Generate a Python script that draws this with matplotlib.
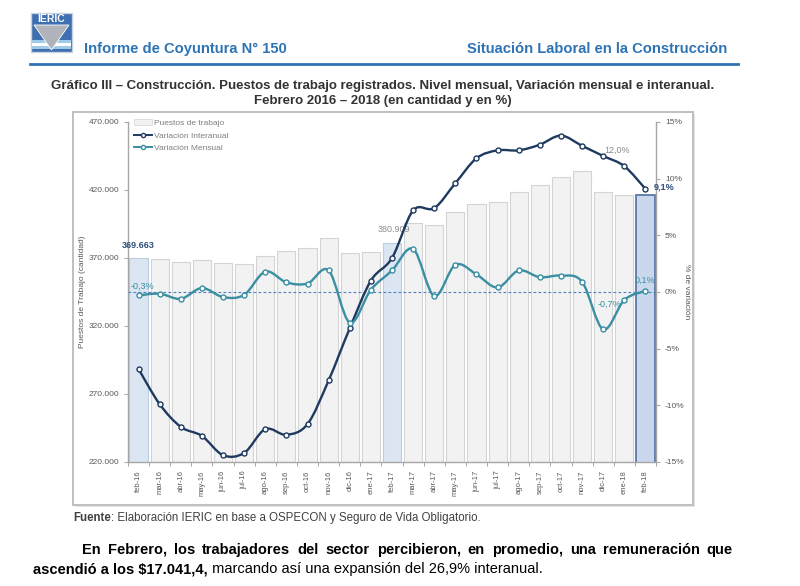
import numpy as np
import matplotlib
matplotlib.use("Agg")
import matplotlib.pyplot as plt
from matplotlib.path import Path
from matplotlib.patches import PathPatch, Rectangle, Polygon, Patch
from matplotlib.lines import Line2D
from matplotlib import font_manager as fm
from matplotlib.ticker import FixedLocator, FuncFormatter

# ---------------- data ----------------
months = ["feb-16", "mar-16", "abr-16", "may-16", "jun-16", "jul-16", "ago-16", "sep-16",
          "oct-16", "nov-16", "dic-16", "ene-17", "feb-17", "mar-17", "abr-17", "may-17",
          "jun-17", "jul-17", "ago-17", "sep-17", "oct-17", "nov-17", "dic-17", "ene-18",
          "feb-18"]
puestos = [369663, 369000, 367300, 368300, 366300, 365400, 371500, 375200, 377600, 384500,
           374000, 374500, 380909, 395700, 394300, 403600, 410000, 411200, 418300, 423700,
           429600, 434000, 418800, 416300, 416300]
var_interanual = [-6.8, -9.9, -11.9, -12.7, -14.4, -14.2, -12.1, -12.6, -11.65, -7.8,
                  -3.2, 1.0, 3.0, 7.2, 7.4, 9.6, 11.8, 12.5, 12.5, 13.0, 13.8, 12.9,
                  12.0, 11.1, 9.1]
var_mensual = [-0.3, -0.15, -0.6, 0.35, -0.45, -0.25, 1.8, 0.85, 0.75, 1.9, -2.7, 0.2,
               1.9, 3.8, -0.35, 2.4, 1.55, 0.4, 1.9, 1.3, 1.45, 0.9, -3.3, -0.7, 0.1]
left_ticks = [220000, 270000, 320000, 370000, 420000, 470000]
right_ticks = [-15, -10, -5, 0, 5, 10, 15]

# ---------------- fonts ----------------
avail = {f.name for f in fm.fontManager.ttflist}
BASE = "Liberation Sans" if "Liberation Sans" in avail else "DejaVu Sans"
NARROW = "Liberation Sans Narrow" if "Liberation Sans Narrow" in avail else BASE
plt.rcParams["font.family"] = [BASE, "DejaVu Sans"]

W, H = 800, 586
fig = plt.figure(figsize=(W / 100, H / 100), dpi=100)
fig.patch.set_facecolor("white")


def fx(x):
    return x / W


def fy(y):
    return 1 - y / H


GRAY = "#7f7f7f"
NAVY = "#1f3a5f"
TEAL = "#3a8fa3"
BLUE = "#2e74b5"

# ---------------- header ----------------
lx0, ly0, lx1, ly1 = 31, 13, 72, 52
fig.patches.append(Rectangle((fx(lx0), fy(ly1)), fx(lx1 - lx0), (ly1 - ly0) / H,
                             transform=fig.transFigure, facecolor="#3f6fb0",
                             edgecolor="#c8d3e0", lw=1.0))
for ya, yb, c in [(40, 43, "#9ecbe8"), (43, 46, "#ffffff"), (46, 49, "#9ecbe8")]:
    fig.patches.append(Rectangle((fx(lx0 + 1), fy(yb)), fx(lx1 - lx0 - 2), (yb - ya) / H,
                                 transform=fig.transFigure, facecolor=c, edgecolor="none"))
fig.patches.append(Polygon([(fx(lx0 + 3), fy(25)), (fx(lx1 - 3), fy(25)),
                            (fx((lx0 + lx1) / 2), fy(50))], closed=True,
                           transform=fig.transFigure, facecolor="#b0b4ba", edgecolor="white", lw=0.6))
fig.text(fx((lx0 + lx1) / 2), fy(19), "IERIC", color="white", fontsize=7.5,
         fontweight="bold", ha="center", va="center", family=[NARROW, BASE])

fig.text(fx(84), fy(53), "Informe de Coyuntura N° 150", color=BLUE, fontsize=10.6,
         fontweight="bold", ha="left", va="baseline", family=[NARROW, BASE])
fig.text(fx(727), fy(53), "Situación Laboral en la Construcción", color=BLUE, fontsize=10.6,
         fontweight="bold", ha="right", va="baseline", family=[NARROW, BASE])
fig.add_artist(Line2D([fx(30), fx(738)], [fy(64), fy(64)], transform=fig.transFigure,
                      color=BLUE, lw=2))

fig.text(fx(383), fy(89), "Gráfico III – Construcción. Puestos de trabajo registrados. "
         "Nivel mensual, Variación mensual e interanual.", color="#333333", fontsize=9.5,
         fontweight="bold", ha="center", va="baseline", family=[NARROW, BASE])
fig.text(fx(383), fy(104), "Febrero 2016 – 2018 (en cantidad y en %)", color="#333333",
         fontsize=9.5, fontweight="bold", ha="center", va="baseline", family=[NARROW, BASE])

# chart frame (with a faint shadow)
fig.patches.append(Rectangle((fx(75), fy(507)), fx(693 - 73), (505 - 112) / H,
                             transform=fig.transFigure, facecolor="#e6e6e6",
                             edgecolor="none", zorder=0))
fig.patches.append(Rectangle((fx(73), fy(505)), fx(693 - 73), (505 - 112) / H,
                             transform=fig.transFigure, facecolor="white",
                             edgecolor="#bfbfbf", lw=1.4, zorder=0))

# ---------------- chart ----------------
ax = fig.add_axes([fx(128), fy(462), fx(656 - 128), (462 - 122) / H])
ax.set_zorder(1)
x = np.arange(len(months))
face = ["#f2f2f2"] * len(months)
edge = ["#d4d4d4"] * len(months)
lws = [0.8] * len(months)
for i in (0, 12):
    face[i] = "#dce6f2"
    edge[i] = "#b9cde5"
face[24] = "#c9d8ec"
edge[24] = "#5a78a8"
lws[24] = 1.3
ax.bar(x, puestos, width=0.86, color=face, edgecolor=edge, linewidth=lws, zorder=2)
ax.set_xlim(-0.5, len(months) - 0.5)
ax.set_ylim(220000, 470000)
ax.yaxis.set_major_locator(FixedLocator(left_ticks))
ax.yaxis.set_major_formatter(FuncFormatter(lambda v, p: f"{v:,.0f}".replace(",", ".")))
ax.set_xticks(x)
ax.set_xticklabels(months, rotation=90, fontsize=5.5, color="#595959")
ax.set_xticks(np.arange(-0.5, len(months), 1.0), minor=True)
ax.tick_params(axis="x", which="major", length=0, pad=6)
ax.tick_params(axis="x", which="minor", length=3, color="#a6a6a6", width=0.7)
ax.tick_params(axis="y", labelsize=6, colors="#595959", length=3, width=0.7)
ax.tick_params(axis="y", color="#a6a6a6")
for s in ("top", "right"):
    ax.spines[s].set_visible(False)
for s in ("left", "bottom"):
    ax.spines[s].set_color("#a6a6a6")
    ax.spines[s].set_linewidth(1.0)
ax.set_ylabel("Puestos de Trabajo (cantidad)", fontsize=6, color="#595959", labelpad=2)
ax.patch.set_alpha(0)

ax.annotate("369.663", (0, puestos[0]), xytext=(0, 8), textcoords="offset pixels",
            ha="center", va="bottom", fontsize=6.5, fontweight="bold", color="#2f4f7f")
ax.annotate("380.909", (12, puestos[12]), xytext=(2, 9), textcoords="offset pixels",
            ha="center", va="bottom", fontsize=6.5, color="#8c8c8c")

ax2 = ax.twinx()
ax2.set_ylim(-15, 15)
ax2.set_xlim(-0.5, len(months) - 0.5)
ax2.yaxis.set_major_locator(FixedLocator(right_ticks))
ax2.yaxis.set_major_formatter(FuncFormatter(lambda v, p: f"{v:.0f}%"))
ax2.tick_params(axis="y", labelsize=6, colors="#595959", length=3, width=0.7)
ax2.tick_params(axis="y", color="#a6a6a6")
for s in ("top", "left", "bottom"):
    ax2.spines[s].set_visible(False)
ax2.spines["right"].set_color("#a6a6a6")
ax2.spines["right"].set_linewidth(1.0)
ax2.set_ylabel("% de variación", fontsize=6, color="#595959", rotation=270, labelpad=4)

ax2.axhline(0, color="#4f81bd", lw=0.8, ls=(0, (2.5, 2)), zorder=3)


def smooth_path(xs, ys):
    xs = np.asarray(xs, float)
    ys = np.asarray(ys, float)
    n = len(xs)
    verts = [(xs[0], ys[0])]
    codes = [Path.MOVETO]
    for i in range(n - 1):
        p0 = np.array([xs[max(i - 1, 0)], ys[max(i - 1, 0)]])
        p1 = np.array([xs[i], ys[i]])
        p2 = np.array([xs[i + 1], ys[i + 1]])
        p3 = np.array([xs[min(i + 2, n - 1)], ys[min(i + 2, n - 1)]])
        c1 = p1 + (p2 - p0) / 6.0
        c2 = p2 - (p3 - p1) / 6.0
        verts += [tuple(c1), tuple(c2), tuple(p2)]
        codes += [Path.CURVE4] * 3
    return Path(verts, codes)


for series, col in ((var_interanual, NAVY), (var_mensual, TEAL)):
    ax2.add_patch(PathPatch(smooth_path(x, series), facecolor="none", edgecolor=col,
                            lw=1.7, zorder=4, capstyle="round", joinstyle="round"))
    ax2.plot(x, series, ls="none", marker="o", ms=3.6, mfc="white", mec=col, mew=1.0,
             zorder=5)

ax2.annotate("12,0%", (22, var_interanual[22]), xytext=(14, 6), textcoords="offset pixels",
             ha="center", va="center", fontsize=6.5, color="#8c8c8c")
ax2.annotate("9,1%", (24, var_interanual[24]), xytext=(19, 2), textcoords="offset pixels",
             ha="center", va="center", fontsize=6.5, fontweight="bold", color="#2f4f7f")
ax2.annotate("0,1%", (24, var_mensual[24]), xytext=(-1, 11), textcoords="offset pixels",
             ha="center", va="center", fontsize=6.5, color=TEAL)
ax2.annotate("-0,7%", (23, var_mensual[23]), xytext=(-15, -4), textcoords="offset pixels",
             ha="center", va="center", fontsize=6.5, color=TEAL)
ax2.annotate("-0,3%", (0, var_mensual[0]), xytext=(4, 9), textcoords="offset pixels",
             ha="center", va="center", fontsize=6.5, color=TEAL)

handles = [Patch(facecolor="#f2f2f2", edgecolor="#d9d9d9", lw=0.6),
           Line2D([], [], color=NAVY, lw=1.4, marker="o", ms=3, mfc="white", mec=NAVY),
           Line2D([], [], color=TEAL, lw=1.4, marker="o", ms=3, mfc="white", mec=TEAL)]
leg = ax2.legend(handles, ["Puestos de trabajo", "Variación Interanual", "Variación Mensual"],
                 loc="upper left", bbox_to_anchor=(0.0, 1.025), frameon=False, fontsize=6,
                 handlelength=2.2, handleheight=0.7, handletextpad=0.2, labelspacing=0.55,
                 borderaxespad=0.3)
for t in leg.get_texts():
    t.set_color("#7f7f7f")

# ---------------- footer ----------------
renderer = fig.canvas.get_renderer()


def width_px(t):
    return t.get_window_extent(renderer).width


t1 = fig.text(fx(73), fy(521), "Fuente", fontsize=8.3, fontweight="bold", color="#404040",
              ha="left", va="baseline", family=[NARROW, BASE])
fig.text(fx(73 + width_px(t1)), fy(521), ": Elaboración IERIC en base a OSPECON y Seguro de "
         "Vida Obligatorio.", fontsize=8.3, color="#404040", ha="left", va="baseline",
         family=[NARROW, BASE])

words = ("En Febrero, los trabajadores del sector percibieron, en promedio, una "
         "remuneración que").split()
tw = [fig.text(0, fy(554), w, fontsize=10.5, fontweight="bold", color="black",
               va="baseline", family=[NARROW, BASE]) for w in words]
ws = [width_px(t) for t in tw]
x0, x1 = 82, 733
gap = (x1 - x0 - sum(ws)) / (len(words) - 1)
cur = x0
for t, w in zip(tw, ws):
    t.set_x(fx(cur))
    cur += w + gap

t2 = fig.text(fx(33), fy(573), "ascendió a los $17.041,4,", fontsize=10.5, fontweight="bold",
              color="black", ha="left", va="baseline", family=[NARROW, BASE])
fig.text(fx(33 + width_px(t2)), fy(573), " marcando así una expansión del 26,9% interanual.",
         fontsize=10.5, color="black", ha="left", va="baseline", family=[NARROW, BASE])

fig.savefig("out.png", dpi=100, facecolor="white")
